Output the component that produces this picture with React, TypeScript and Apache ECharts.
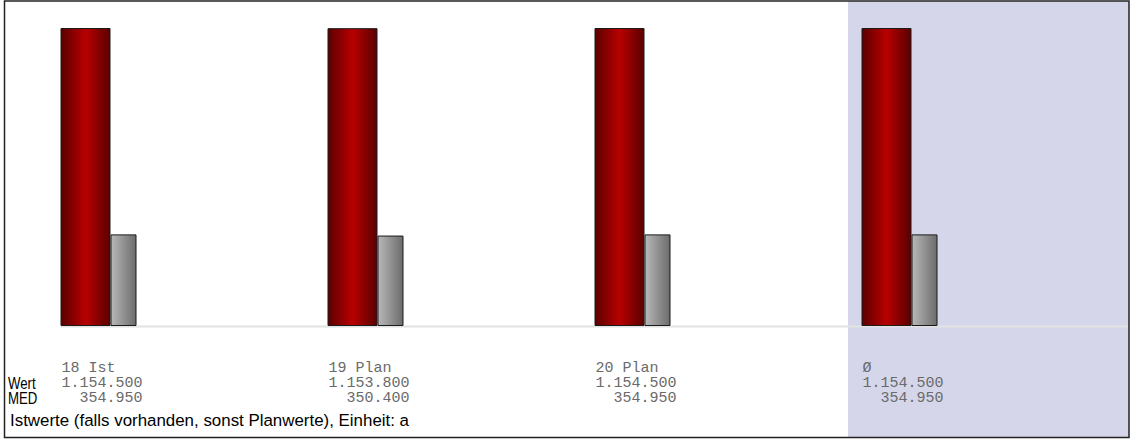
import React, { useEffect, useRef } from "react";
import * as echarts from "echarts";

const categories = ["18 Ist", "19 Plan", "20 Plan", "Ø"];
const wertValues = [1154500, 1153800, 1154500, 1154500];
const medValues = [354950, 350400, 354950, 354950];
const rowLabels = ["Wert", "MED"];
const footerText = "Istwerte (falls vorhanden, sonst Planwerte), Einheit: a";

const fmt = (n: number) => String(n).replace(/\B(?=(\d{3})+(?!\d))/g, ".");
const pad = (s: string, w: number) => {
  let r = s;
  while (r.length < w) r = "\u00a0" + r;
  return r;
};

export default function App() {
  const ref = useRef<HTMLDivElement>(null);
  useEffect(() => {
    if (!ref.current) return;
    const chart = echarts.init(ref.current, null, { renderer: "svg" });
    const redGrad = new echarts.graphic.LinearGradient(0, 0, 1, 0, [
      { offset: 0, color: "#5c0000" },
      { offset: 0.5, color: "#b80000" },
      { offset: 1, color: "#5a0000" },
    ]);
    const grayGrad = new echarts.graphic.LinearGradient(0, 0, 1, 0, [
      { offset: 0, color: "#b8b8b8" },
      { offset: 1, color: "#6c6c6c" },
    ]);
    const mono = "'Liberation Mono', 'Courier New', monospace";
    const sans = "'Liberation Sans', Arial, sans-serif";
    chart.setOption({
      animation: false,
      backgroundColor: "#ffffff",
      grid: {
        left: -35,
        width: 1068,
        top: 28,
        bottom: 113,
        outerBoundsMode: "none",
        containLabel: false,
      },
      xAxis: {
        type: "category",
        data: categories,
        axisLine: { show: false },
        axisTick: { show: false },
        axisLabel: { show: false },
        splitLine: { show: false },
      },
      yAxis: {
        type: "value",
        min: 0,
        max: "dataMax",
        show: false,
        splitLine: { show: false },
      },
      graphic: [
        {
          type: "rect",
          z: -10,
          shape: { x: 848, y: 1, width: 281, height: 436 },
          style: { fill: "#d6d6eb" },
        },
        {
          type: "line",
          z: -5,
          shape: { x1: 61, y1: 326.5, x2: 1129, y2: 326.5 },
          style: { stroke: "#e2e2e2", lineWidth: 2 },
        },
        ...rowLabels.map((t, i) => ({
          type: "text",
          x: 8,
          y: 383 + i * 14.5,
          scaleX: 0.8,
          style: {
            text: t,
            fontSize: 16.5,
            fontFamily: sans,
            fill: "#000",
            verticalAlign: "middle",
          },
        })),
        {
          type: "text",
          x: 10,
          y: 420,
          style: {
            text: footerText,
            fontSize: 16.9,
            fontFamily: sans,
            fill: "#000",
            verticalAlign: "middle",
          },
        },
        {
          type: "rect",
          z: 100,
          shape: { x: 4.5, y: 1, width: 1124.5, height: 436.5 },
          style: { fill: "none", stroke: "#222", lineWidth: 1.5 },
        },
      ],
      series: [
        {
          type: "bar",
          name: "Wert",
          data: wertValues,
          barWidth: 50,
          barGap: "0%",
          itemStyle: { color: redGrad, borderColor: "#1a1a1a", borderWidth: 1 },
          label: {
            show: true,
            position: [0, "100%"],
            offset: [1, 34.5],
            align: "left",
            verticalAlign: "top",
            fontFamily: mono,
            fontSize: 15,
            lineHeight: 15,
            color: "#6a6a6a",
            formatter: (p: any) =>
              categories[p.dataIndex] +
              "\n" +
              pad(fmt(wertValues[p.dataIndex]), 9) +
              "\n" +
              pad(fmt(medValues[p.dataIndex]), 9),
          },
        },
        {
          type: "bar",
          name: "MED",
          data: medValues,
          barWidth: 26,
          barGap: "0%",
          itemStyle: { color: grayGrad, borderColor: "#1a1a1a", borderWidth: 1 },
        },
      ],
    });
    return () => chart.dispose();
  }, []);
  return (
    <div
      ref={ref}
      style={{ position: "fixed", left: 0, top: 0, width: 1132, height: 439 }}
    />
  );
}
